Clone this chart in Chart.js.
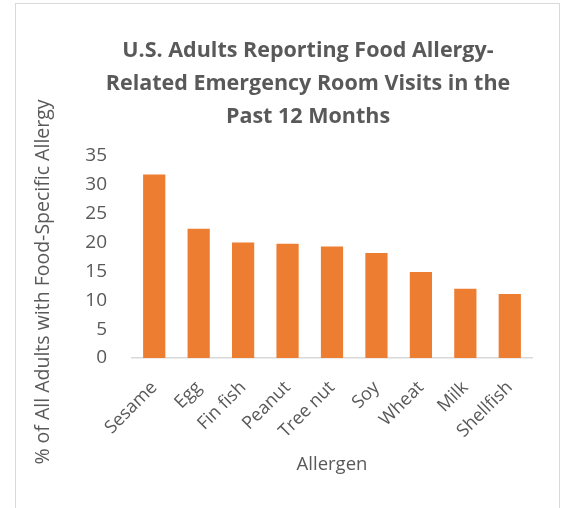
<!DOCTYPE html>
<html>
<head>
<meta charset="utf-8">
<script src="https://cdn.jsdelivr.net/npm/chart.js@4.4.1/dist/chart.umd.min.js"></script>
<style>
  html, body { margin: 0; padding: 0; background: #fff; }
  #wrap { position: relative; width: 565px; height: 508px; overflow: hidden; }
  #frame { position: absolute; left: 15px; top: 3px; width: 545px; height: 520px; border: 1px solid #d9d9d9; box-sizing: border-box; }
  canvas { position: absolute; left: 0; top: 0; }
</style>
</head>
<body>
<div id="wrap">
  <div id="frame"></div>
  <canvas id="allergyChart" width="565" height="508"></canvas>
</div>
<script>
// chart values
const allergens = ['Sesame', 'Egg', 'Fin fish', 'Peanut', 'Tree nut', 'Soy', 'Wheat', 'Milk', 'Shellfish'];
const pctAdults = [31.8, 22.4, 20.0, 19.8, 19.3, 18.2, 14.9, 12.0, 11.1];
const titleLines = ['U.S. Adults Reporting Food Allergy-', 'Related Emergency Room Visits in the', 'Past 12 Months'];
const yTitle = '% of All Adults with Food-Specific Allergy';
const xTitle = 'Allergen';

const textColor = '#595959';
const fontName = "'Open Sans', sans-serif";

Chart.defaults.font.family = fontName;
Chart.defaults.color = textColor;

// draws the chart title and the y axis title where Excel put them
const titlesPlugin = {
    id: 'titles',
    afterDraw(chart) {
        const ctx = chart.ctx;
        ctx.save();
        ctx.fillStyle = textColor;
        ctx.textAlign = 'center';
        ctx.textBaseline = 'alphabetic';
        ctx.font = 'bold 21.5px ' + fontName;
        titleLines.forEach((line, i) => {
            ctx.fillText(line, 308, 57 + i * 33);
        });
        ctx.font = '19.5px ' + fontName;
        ctx.translate(43, 282);
        ctx.rotate(-Math.PI / 2);
        ctx.textBaseline = 'middle';
        ctx.fillText(yTitle, 0, 0);
        ctx.restore();
    }
};

const ctx = document.getElementById('allergyChart').getContext('2d');
new Chart(ctx, {
    type: 'bar',
    data: {
        labels: allergens,
        datasets: [{
            label: 'Percent',
            data: pctAdults,
            backgroundColor: '#ed7d31',
            barPercentage: 0.5,
            categoryPercentage: 1.0
        }]
    },
    options: {
        responsive: false,
        animation: false,
        layout: { padding: { top: 156, right: 33, bottom: 0, left: 0 } },
        plugins: {
            legend: { display: false },
            tooltip: { enabled: false }
        },
        scales: {
            y: {
                min: 0,
                max: 35,
                ticks: { stepSize: 5, padding: 25, font: { size: 19 } },
                grid: { display: false, drawTicks: false },
                border: { display: false },
                afterFit(scale) { scale.width = 132; }
            },
            x: {
                ticks: { minRotation: 45, maxRotation: 45, padding: 19, font: { size: 18 } },
                grid: { display: false, drawTicks: false },
                border: { display: true, color: '#d9d9d9', width: 1.5 },
                title: { display: true, text: xTitle, font: { size: 18.5 }, padding: { top: 0, bottom: 32 } },
                afterFit(scale) { scale.height = 150; }
            }
        }
    },
    plugins: [titlesPlugin]
});
</script>
</body>
</html>
